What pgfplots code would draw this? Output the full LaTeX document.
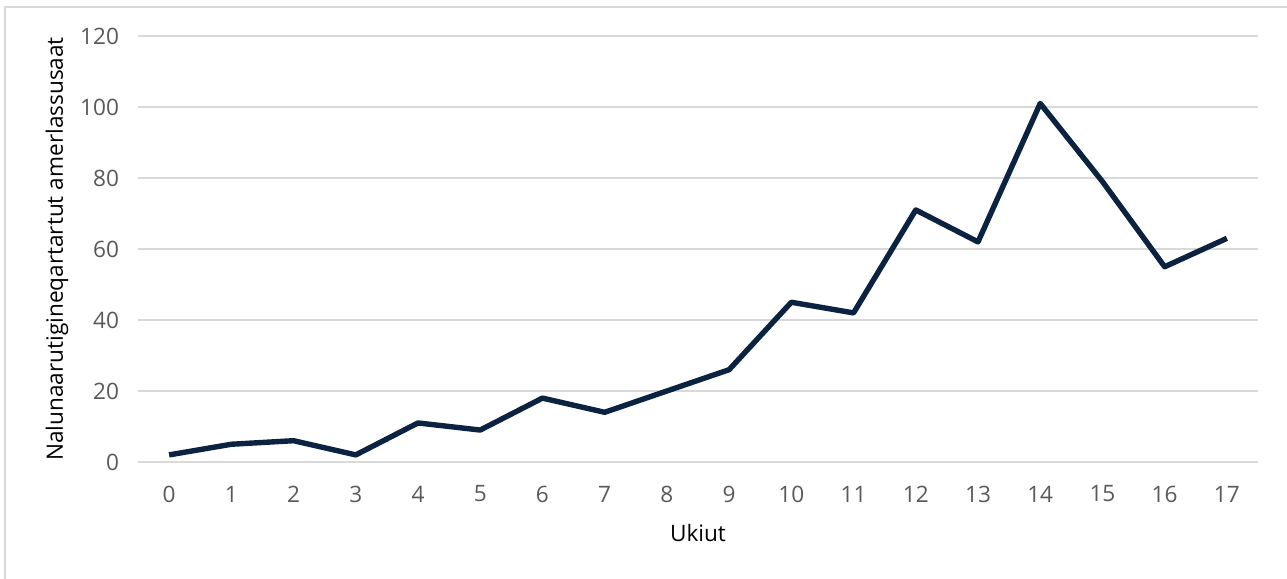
\documentclass[border=0pt]{standalone}
\usepackage{fontspec}
\setmainfont{Open Sans}
\usepackage{pgfplots}
\pgfplotsset{compat=1.18}
\definecolor{linecol}{HTML}{0B2240}
\definecolor{gridcol}{HTML}{D9D9D9}
\definecolor{txtcol}{HTML}{595959}

\begin{document}
\begin{tikzpicture}
% frame of the chart area (1 px = 0.5 pt)
\useasboundingbox (-69pt,-58.5pt) rectangle (574.5pt,231pt);
\draw[gridcol, line width=0.8pt] (-66.5pt,-58.5pt) -- (-66.5pt,227.5pt) -- (574.5pt,227.5pt);
\begin{axis}[
    scale only axis,
    width=560pt, height=213pt,
    xmin=-0.5, xmax=17.5,
    ymin=0, ymax=120,
    xtick={0,...,17},
    ytick={0,20,...,120},
    axis line style={draw=none},
    major tick length=0pt,
    ymajorgrids,
    grid style={gridcol, line width=1pt},
    font=\fontsize{11.3}{13}\selectfont,
    tick label style={text=txtcol},
    /pgf/number format/assume math mode=true,
    x tick label style={anchor=center, yshift=-16pt},
    y tick label style={anchor=east, xshift=-6pt},
    xlabel={Ukiut},
    ylabel={Nalunaarutigineqartartut amerlassusaat},
    label style={text=txtcol},
    every axis x label/.style={at={(axis description cs:0.5,0)}, anchor=center, yshift=-35.5pt},
    every axis y label/.style={at={(axis description cs:0,0.5)}, anchor=center, xshift=-40.5pt, rotate=90},
]
\addplot[linecol, line width=2.7pt, line join=round, mark=none] coordinates {
    (0,2) (1,5) (2,6) (3,2) (4,11) (5,9) (6,18) (7,14) (8,20) (9,26)
    (10,45) (11,42) (12,71) (13,62) (14,101) (15,79) (16,55) (17,63)
};
\end{axis}
\end{tikzpicture}
\end{document}
